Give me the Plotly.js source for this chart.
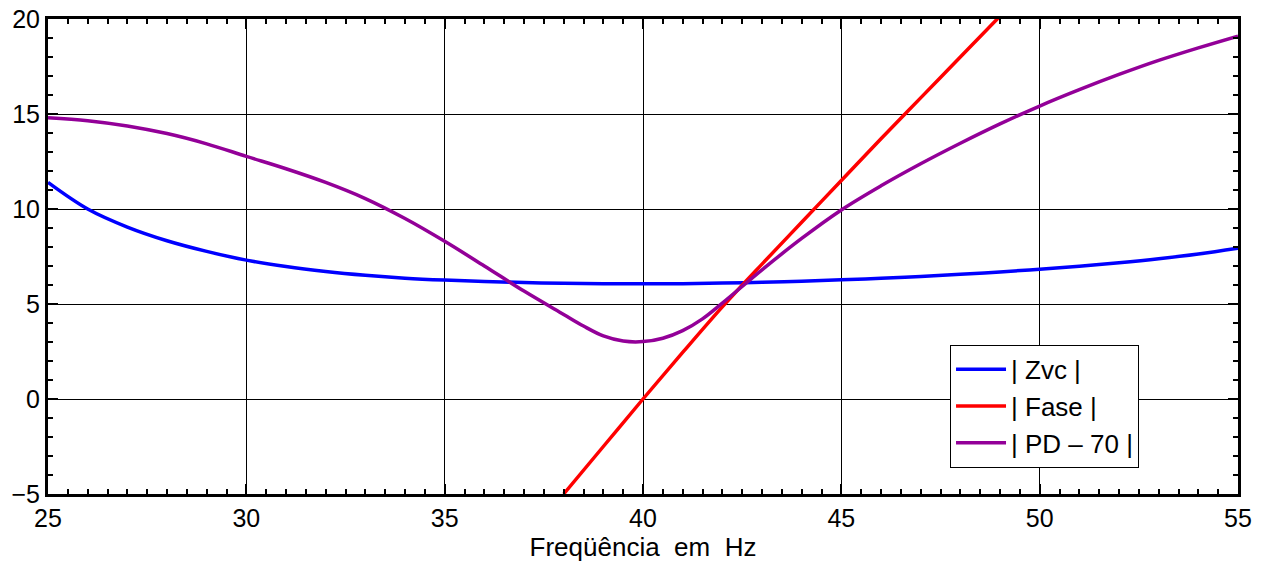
<!DOCTYPE html>
<html>
<head>
<meta charset="utf-8">
<script src="https://cdn.plot.ly/plotly-3.0.1.min.js"></script>
<style>
  html, body { margin: 0; padding: 0; background: #fff; }
  #chart { width: 1267px; height: 569px; }
</style>
</head>
<body>
<div id="chart"></div>
<script>
// Frequency grid (Hz)
const freq = [25, 26, 27, 28, 29, 30, 31, 32, 33, 34, 35, 36, 37, 38, 39, 40, 41, 42, 43, 44, 45, 46, 47, 48, 49, 50, 51, 52, 53, 54, 55];

// |Zvc|
const zvc = [11.4, 10.0, 9.05, 8.33, 7.77, 7.31, 6.97, 6.71, 6.51, 6.36, 6.26, 6.19, 6.13, 6.09, 6.07, 6.06, 6.07, 6.1, 6.14, 6.2, 6.27, 6.35, 6.45, 6.56, 6.69, 6.83, 6.99, 7.17, 7.38, 7.63, 7.93];

// |PD - 70| (denser sampling around the minimum)
const pdFreq = [25, 26, 27, 28, 29, 30, 31, 32, 33, 34, 35, 36, 37, 38, 38.5, 39, 39.5, 40, 40.5, 41, 41.5, 42, 43, 44, 45, 46, 47, 48, 49, 50, 51, 52, 53, 54, 55];
const pd70 = [14.8, 14.65, 14.37, 13.97, 13.43, 12.77, 12.12, 11.4, 10.55, 9.5, 8.3, 7.0, 5.68, 4.45, 3.84, 3.32, 3.05, 3.02, 3.2, 3.6, 4.22, 5.05, 6.8, 8.45, 9.95, 11.22, 12.38, 13.46, 14.48, 15.42, 16.28, 17.08, 17.82, 18.48, 19.1];

// |Fase|
const faseFreq = [38, 39, 40, 41, 42, 43, 44, 45, 46, 47, 48, 49];
const fase = [-5, -2.5, 0, 2.45, 4.85, 7.1, 9.3, 11.5, 13.7, 15.85, 18.0, 20.15];

const seriesNames = ['| Zvc |', '| Fase |', '| PD \u2013 70 |'];
const xTitle = 'Freq\u00fc\u00eancia&nbsp;&nbsp;em&nbsp;&nbsp;Hz';

const family = 'Liberation Sans, Arial, sans-serif';
const tickFont = () => ({ family: family, size: 25, color: '#000' });
const textFont = () => ({ family: family, size: 26, color: '#000' });

const traces = [
  { x: freq, y: zvc, name: seriesNames[0], legendgroup: 'a', mode: 'lines',
    line: { color: '#0000ff', width: 3.5, shape: 'spline' } },
  { x: faseFreq, y: fase, name: seriesNames[1], legendgroup: 'b', mode: 'lines',
    line: { color: '#ff0000', width: 3.5, shape: 'spline' } },
  { x: pdFreq, y: pd70, name: seriesNames[2], legendgroup: 'c', mode: 'lines',
    line: { color: '#930098', width: 3.5, shape: 'spline' } }
];

function axis(extra) {
  return Object.assign({
    showline: true, linecolor: '#000', linewidth: 3, mirror: 'ticks',
    ticks: 'inside', ticklen: 10, tickwidth: 2, tickcolor: '#000',
    showgrid: true, gridcolor: '#000', gridwidth: 1,
    zeroline: false, tickfont: tickFont()
  }, extra);
}

const layout = {
  width: 1267, height: 569,
  margin: { l: 48, r: 29, t: 19, b: 75 },
  paper_bgcolor: '#fff', plot_bgcolor: '#fff',
  font: tickFont(),
  showlegend: true,
  legend: {
    x: 0.758, y: 0.314, xanchor: 'left', yanchor: 'top',
    bgcolor: '#fff', bordercolor: '#000', borderwidth: 1,
    font: textFont(), traceorder: 'grouped', tracegroupgap: 0, itemwidth: 50
  },
  xaxis: axis({
    range: [25, 55], dtick: 5, tick0: 25,
    minor: { dtick: 0.5, ticks: 'inside', ticklen: 5, tickwidth: 2, tickcolor: '#000', showgrid: false },
    title: { text: xTitle, font: textFont(), standoff: 2 }
  }),
  yaxis: axis({
    range: [-5, 20], dtick: 5, tick0: 0,
    minor: { dtick: 1, ticks: 'inside', ticklen: 5, tickwidth: 2, tickcolor: '#000', showgrid: false }
  })
};

Plotly.newPlot('chart', traces, layout, { displayModeBar: false, staticPlot: true });
</script>
</body>
</html>
